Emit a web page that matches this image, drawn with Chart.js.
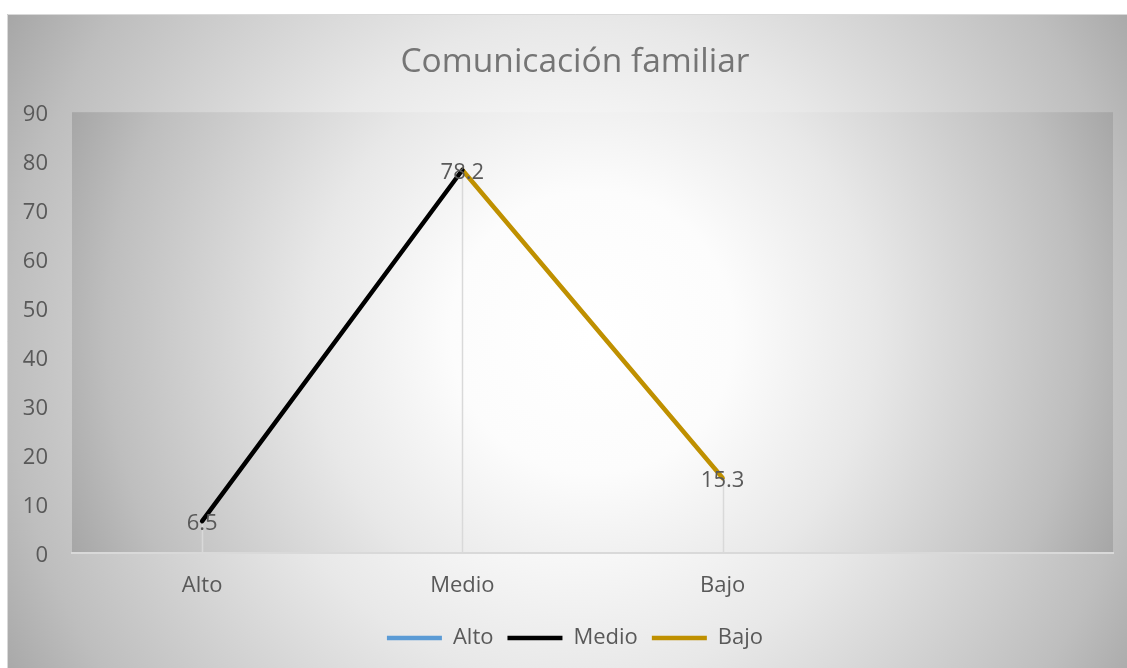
<!DOCTYPE html>
<html>
<head>
<meta charset="utf-8">
<script src="https://cdn.jsdelivr.net/npm/chart.js@4.4.1/dist/chart.umd.min.js"></script>
<style>
  html, body { margin: 0; padding: 0; background: #ffffff; overflow: hidden; }
  #wrap { position: absolute; left: 7px; top: 14px; width: 1136px; height: 654px; }
</style>
</head>
<body>
<div id="wrap"><canvas id="chart" width="1136" height="654"></canvas></div>
<script>
// categories (last one is an empty slot, as in the original sheet)
const categories = ['Alto', 'Medio', 'Bajo', ''];
const altoValues = [6.5, null, null, null];
const medioValues = [6.5, 78.2, null, null];
const bajoValues = [null, 78.2, 15.3, null];
// values shown as data labels, one per category
const labelValues = [6.5, 78.2, 15.3];
const yTicks = [0, 10, 20, 30, 40, 50, 60, 70, 80, 90];

const FONT = "'Open Sans', 'Noto Sans', sans-serif";
const TEXT = '#595959';

function radial(ctx, x0, y0, x1, y1) {
    const cx = (x0 + x1) / 2, cy = (y0 + y1) / 2;
    const r = Math.hypot(x1 - x0, y1 - y0) / 2;
    const g = ctx.createRadialGradient(cx, cy, 0, cx, cy, r);
    g.addColorStop(0, '#ffffff');
    g.addColorStop(0.25, '#fcfcfc');
    g.addColorStop(0.5, '#e8e8e8');
    g.addColorStop(0.86, '#bebebe');
    g.addColorStop(1, '#a6a6a6');
    return g;
}

const backgrounds = {
    id: 'backgrounds',
    beforeDraw(chart) {
        const { ctx, width, height, chartArea: a } = chart;
        ctx.save();
        ctx.fillStyle = radial(ctx, 0, 0, width, height + 20);
        ctx.fillRect(0, 0, width, height);
        ctx.strokeStyle = '#d9d9d9';
        ctx.lineWidth = 1;
        ctx.beginPath();
        ctx.moveTo(0.5, height);
        ctx.lineTo(0.5, 0.5);
        ctx.lineTo(width, 0.5);
        ctx.stroke();
        ctx.fillStyle = radial(ctx, a.left, a.top, a.right, a.bottom);
        ctx.fillRect(a.left, a.top, a.right - a.left, a.bottom - a.top);
        ctx.restore();
    },
    beforeDatasetsDraw(chart) {
        // drop lines from each point down to the axis
        const { ctx, scales: { x, y } } = chart;
        ctx.save();
        ctx.strokeStyle = '#d9d9d9';
        ctx.lineWidth = 1.5;
        labelValues.forEach((v, i) => {
            const px = Math.round(x.getPixelForValue(i)) + 0.5;
            ctx.beginPath();
            ctx.moveTo(px, y.getPixelForValue(v));
            ctx.lineTo(px, y.getPixelForValue(0));
            ctx.stroke();
        });
        ctx.restore();
    },
    afterDatasetsDraw(chart) {
        const { ctx, scales: { x, y } } = chart;
        ctx.save();
        ctx.font = '22px ' + FONT;
        ctx.fillStyle = TEXT;
        ctx.textAlign = 'center';
        ctx.textBaseline = 'middle';
        labelValues.forEach((v, i) => {
            ctx.fillText(String(v), x.getPixelForValue(i), y.getPixelForValue(v) + 3);
        });
        ctx.restore();
    }
};

const lineStyle = { borderWidth: 4.5, pointRadius: 0, pointHoverRadius: 0, borderCapStyle: 'round', tension: 0, spanGaps: false };

new Chart(document.getElementById('chart'), {
    type: 'line',
    data: {
        labels: categories,
        datasets: [
            { label: 'Alto', data: altoValues, borderColor: '#5b9bd5', backgroundColor: '#5b9bd5', ...lineStyle, borderCapStyle: 'butt' },
            { label: 'Medio', data: medioValues, borderColor: '#000000', backgroundColor: '#000000', ...lineStyle },
            { label: 'Bajo', data: bajoValues, borderColor: '#bf9000', backgroundColor: '#bf9000', ...lineStyle }
        ]
    },
    options: {
        responsive: false,
        animation: false,
        devicePixelRatio: 1,
        layout: { padding: { left: 0, right: 0, top: 0, bottom: 9 } },
        plugins: {
            title: {
                display: true,
                text: 'Comunicación familiar',
                color: '#757575',
                font: { family: FONT, size: 33.5, weight: 'normal', lineHeight: 1.2 },
                padding: { top: 28, bottom: 30 }
            },
            legend: {
                position: 'bottom',
                labels: {
                    usePointStyle: true,
                    pointStyle: 'line',
                    pointStyleWidth: 55,
                    boxHeight: 4,
                    padding: 14,
                    color: TEXT,
                    font: { family: FONT, size: 22 }
                }
            },
            tooltip: { enabled: false }
        },
        scales: {
            x: {
                offset: true,
                grid: { display: false, drawTicks: false, offset: true },
                border: { display: true, color: '#d9d9d9', width: 2 },
                ticks: { color: TEXT, font: { family: FONT, size: 22 }, padding: 20, maxRotation: 0 },
                afterFit(scale) { scale.height = 60; }
            },
            y: {
                min: 0,
                max: 90,
                grid: { display: false, drawTicks: false },
                border: { display: false },
                afterBuildTicks(scale) { scale.ticks = yTicks.map(v => ({ value: v })); },
                ticks: { color: TEXT, font: { family: FONT, size: 22 }, padding: 24, labelOffset: 3 },
                afterFit(scale) { scale.width = 65; }
            },
            // empty right-hand spacer so the plot ends where the original one does
            spacer: {
                type: 'linear',
                position: 'right',
                grid: { display: false, drawTicks: false },
                border: { display: false },
                ticks: { display: false },
                afterFit(scale) { scale.width = 30; }
            }
        }
    },
    plugins: [backgrounds]
});
</script>
</body>
</html>
